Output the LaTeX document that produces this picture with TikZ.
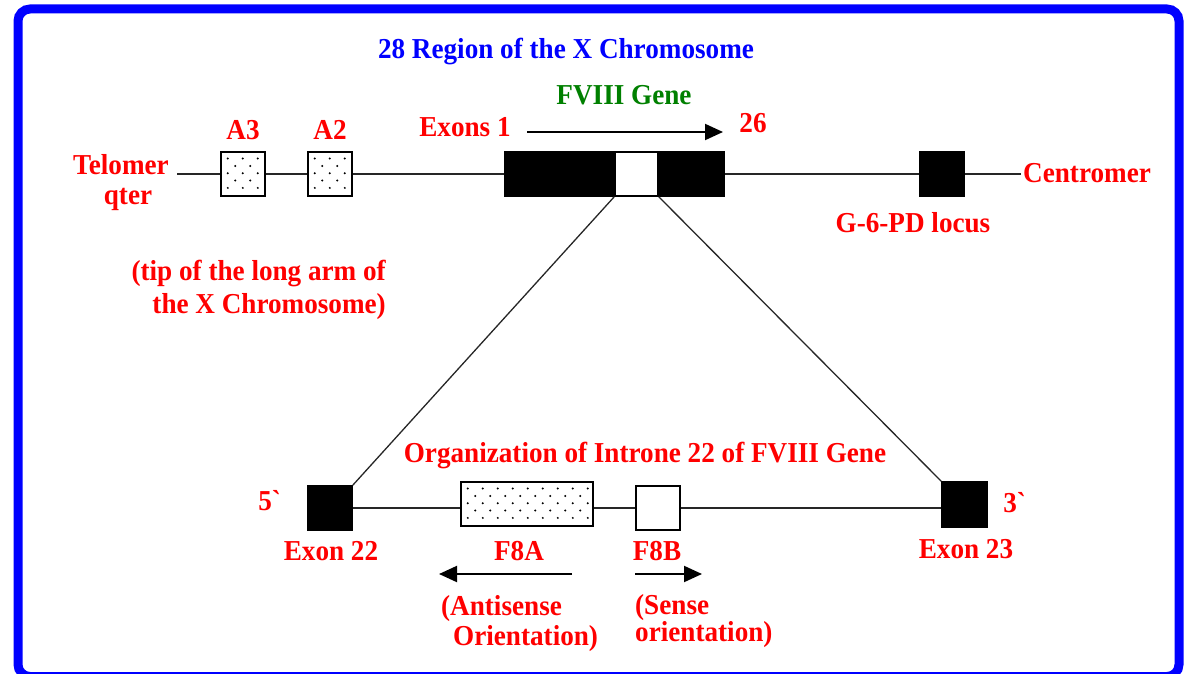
\documentclass[tikz,border=0pt]{standalone}
\usepackage{fontspec}
\setmainfont{Liberation Serif}[FakeStretch=0.94]
\usetikzlibrary{arrows.meta}
\definecolor{fgreen}{RGB}{0,128,0}
\definecolor{fred}{RGB}{255,0,0}
\definecolor{fblue}{RGB}{0,0,255}
\tikzset{
  lbl/.style={font=\fontsize{29}{32}\selectfont\bfseries, text=fred, inner sep=0pt, anchor=base},
  box/.style={draw, line width=1.5bp, inner sep=0pt, minimum width=44bp, minimum height=44bp, fill=white},
  blk/.style={box, fill=black},
  ln/.style={line width=1.3bp, draw=black!85},
  arr/.style={line width=2bp, -{Triangle[length=18bp,width=16bp]}},
  frame/.style={draw=fblue, line width=9bp, rounded corners=12bp}
}
\begin{document}
\begin{tikzpicture}[x=1bp,y=-1bp]
\useasboundingbox (0,0) rectangle (1184,674);
\draw[frame] (18,9) rectangle (1179,676.5);

% upper chromosome boxes
\node[box] (A3) at (243,174) {};
\node[box] (A2) at (330,174) {};
\node[blk, minimum width=110bp] (exL) at (560,174) {};
\node[box, minimum width=43bp] (exW) at (636.5,174) {};
\node[blk, minimum width=66bp] (exR) at (691,174) {};
\node[blk] (G6) at (942,174) {};
\coordinate (telE) at (177,174);
\coordinate (centW) at (1021,174);

% lower intron boxes
\node[blk] (ex22) at (330,508) {};
\node[box, minimum width=132bp] (f8a) at (527,504) {};
\node[box] (f8b) at (658,508) {};
\node[blk, minimum width=45bp, minimum height=45bp] (ex23) at (964.5,504.5) {};

% dotted fills
\foreach \b/\n in {A3/3,A2/3,f8a/9}{
  \begin{scope}
    \clip ([xshift=2bp,yshift=-2bp]\b.north west) rectangle ([xshift=-2bp,yshift=2bp]\b.south east);
    \begin{scope}[shift={(\b.north west)}]
      \foreach \i in {0,...,\n}{
        \foreach \j in {0,...,4}{
          \fill ({7.5*(1+mod(\j,2))+15*\i},{7.33*(\j+1)}) circle (1.1bp);
        }
      }
    \end{scope}
  \end{scope}
}

% chromosome lines
\draw[ln] (telE) -- (A3.west);
\draw[ln] (A3.east) -- (A2.west);
\draw[ln] (A2.east) -- (exL.west);
\draw[ln] (exR.east) -- (G6.west);
\draw[ln] (G6.east) -- (centW);
\draw[ln] (ex22.east) -- (ex22.east -| f8a.west);
\draw[ln] (ex22.east -| f8a.east) -- (f8b.west);
\draw[ln] (f8b.east) -- (f8b.east -| ex23.west);

% cone
\draw[ln] (exW.south west) -- (ex22.north east);
\draw[ln] (exW.south east) -- (ex23.north west);

% arrows
\coordinate (a1s) at (527,132);
\coordinate (a1e) at (723,132);
\coordinate (a2s) at (572,574);
\coordinate (a2e) at (439,574);
\coordinate (a3s) at (635,574);
\coordinate (a3e) at (702,574);
\draw[arr] (a1s) -- (a1e);
\draw[arr] (a2s) -- (a2e);
\draw[arr] (a3s) -- (a3e);

% labels
\node[lbl, text=fblue] (title) at (566,59) {28 Region of the X Chromosome};
\node[lbl, text=fgreen] (gene) at (624,105) {FVIII Gene};
\node[lbl] (exons1) at (465,137) {Exons 1};
\node[lbl] (n26) at (753,133) {26};
\node[lbl] (A3l) at (243,140) {A3};
\node[lbl] (A2l) at (330,140) {A2};
\node[lbl] (tel) at (121,175) {Telomer};
\node[lbl] (qter) at (128,205) {qter};
\node[lbl, anchor=base east] (tip1) at (386,280) {(tip of the long arm of};
\node[lbl, anchor=base east] (tip2) at (386,313) {the X Chromosome)};
\node[lbl, anchor=base west] (cent) at (1023,183) {Centromer};
\node[lbl] (g6l) at (913,233) {G-6-PD locus};
\node[lbl] (org) at (645,462) {Organization of Introne 22 of FVIII Gene};
\node[lbl] (five) at (270,510) {5\textasciigrave};
\node[lbl] (three) at (1015,512) {3\textasciigrave};
\node[lbl] (ex22l) at (331,560) {Exon 22};
\node[lbl] (f8al) at (519,560) {F8A};
\node[lbl] (f8bl) at (657,560) {F8B};
\node[lbl] (ex23l) at (966,558) {Exon 23};
\node[lbl, anchor=base west] (anti1) at (441,615) {(Antisense};
\node[lbl, anchor=base west] (anti2) at (453,645) {Orientation)};
\node[lbl, anchor=base west] (sense1) at (635,614) {(Sense};
\node[lbl, anchor=base west] (sense2) at (635,641) {orientation)};
\end{tikzpicture}
\end{document}
